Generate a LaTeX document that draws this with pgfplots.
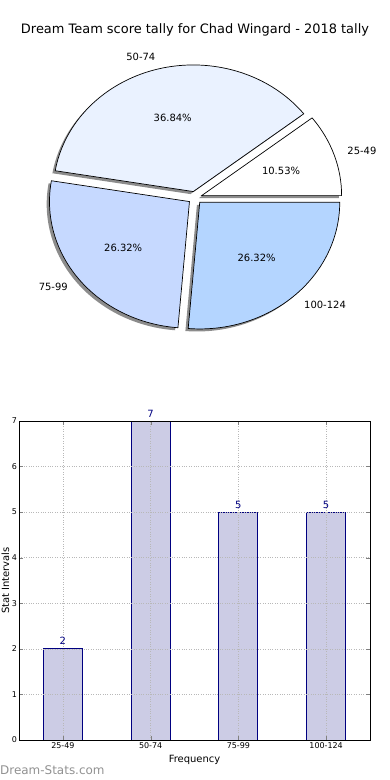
\documentclass[border=0pt]{standalone}
\usepackage{pgfplots}
\pgfplotsset{compat=1.18}
\usepackage{fontspec}
\setmainfont{DejaVu Sans}
\definecolor{cA}{RGB}{255,255,255}
\definecolor{cB}{RGB}{234,242,255}
\definecolor{cC}{RGB}{198,217,255}
\definecolor{cD}{RGB}{180,213,255}
\definecolor{barfill}{RGB}{204,204,229}
\definecolor{navy}{RGB}{0,0,128}
\definecolor{shad}{RGB}{140,140,140}
\definecolor{wm}{RGB}{145,145,145}
% pie data: start value, value (total 19)
\newcommand\pieshadow[2]{%
  \fill[shad] (axis cs:{0.05*cos(360*(#1+#2/2)/19)-0.02},{0.05*sin(360*(#1+#2/2)/19)-0.02})
    -- ++({140bp*cos(360*#1/19)},{126.6bp*sin(360*#1/19)})
    arc[start angle={360*#1/19}, end angle={360*(#1+#2)/19}, x radius=140bp, y radius=126.6bp] -- cycle;}
\newcommand\pieslice[6]{%
  \filldraw[fill=#3, draw=black, line width=0.7bp, line join=miter] (axis cs:{0.05*cos(360*(#1+#2/2)/19)},{0.05*sin(360*(#1+#2/2)/19)})
    -- ++({140bp*cos(360*#1/19)},{126.6bp*sin(360*#1/19)})
    arc[start angle={360*#1/19}, end angle={360*(#1+#2)/19}, x radius=140bp, y radius=126.6bp] -- cycle;
  \node[font=\fontsize{10}{12}\selectfont] at (axis cs:{0.65*cos(360*(#1+#2/2)/19)},{0.65*sin(360*(#1+#2/2)/19)}) {#5};
  \node[font=\fontsize{10}{12}\selectfont, anchor=#6, inner sep=0pt] at (axis cs:{1.15*cos(360*(#1+#2/2)/19)},{1.15*sin(360*(#1+#2/2)/19)}) {#4};}
\begin{document}
\begin{tikzpicture}
\useasboundingbox (0,0) rectangle (390bp,780bp);
\node[font=\fontsize{13}{15}\selectfont] at (195bp,750bp) {Dream Team score tally for Chad Wingard - 2018 tally};
% pie
\begin{axis}[at={(195bp,582.3bp)}, anchor=center, scale only axis,
  width=392bp, height=354.48bp, xmin=-1.4, xmax=1.4, ymin=-1.4, ymax=1.4,
  hide axis, clip=false]
\addplot[draw=none, forget plot] coordinates {(0,0)};
\pieshadow{0}{2}
\pieshadow{2}{7}
\pieshadow{9}{5}
\pieshadow{14}{5}
\pieslice{0}{2}{cA}{25-49}{10.53\%}{west}
\pieslice{2}{7}{cB}{50-74}{36.84\%}{east}
\pieslice{9}{5}{cC}{75-99}{26.32\%}{east}
\pieslice{14}{5}{cD}{100-124}{26.32\%}{west}
\end{axis}
% bars
\begin{axis}[at={(19bp,40bp)}, anchor=south west, scale only axis,
  width=351bp, height=319bp,
  xmin=-0.5, xmax=3.5, ymin=0, ymax=7,
  xtick={0,1,2,3}, xticklabels={25-49,50-74,75-99,100-124},
  ytick={0,1,2,3,4,5,6,7},
  /pgf/number format/assume math mode=true,
  tick label style={font=\fontsize{8}{9}\selectfont},
  xticklabel style={yshift=1bp},
  yticklabel style={xshift=1.5bp},
  tick align=inside, tick pos=both, major tick length=4bp,
  grid=major, grid style={dotted, black!28, line width=0.7bp},
  axis on top, axis line style={line width=0.8bp},
  xlabel={Frequency}, ylabel={Stat Intervals},
  label style={font=\fontsize{10}{12}\selectfont},
  every axis x label/.style={at={(axis description cs:0.5,0)}, anchor=north, yshift=-12bp},
  every axis y label/.style={at={(axis description cs:0,0.5)}, rotate=90, anchor=center, yshift=13.5bp},
  clip=false]
\addplot[ybar, bar width=39bp, fill=barfill, draw=navy, line width=0.8bp,
  nodes near coords, every node near coord/.append style={font=\fontsize{10}{12}\selectfont, text=navy, anchor=south, inner sep=3.5bp}]
  coordinates {(0,2) (1,7) (2,5) (3,5)};
\end{axis}
\node[anchor=west, inner sep=0pt, text=wm, font=\fontsize{12}{14}\selectfont] at (0bp,10bp) {Dream-Stats.com};
\end{tikzpicture}
\end{document}
